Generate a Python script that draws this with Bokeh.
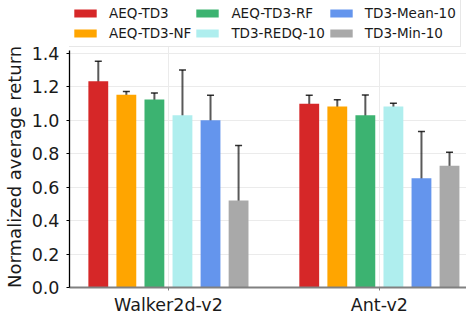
from bokeh.plotting import figure
from bokeh.models import (ColumnDataSource, Range1d, FixedTicker, Whisker, TeeHead,
                          Legend, LegendItem, NumeralTickFormatter)
from bokeh.embed import file_html
from bokeh.resources import INLINE

envs = ["Walker2d-v2", "Ant-v2"]
methods = ["AEQ-TD3", "AEQ-TD3-NF", "AEQ-TD3-RF", "TD3-REDQ-10", "TD3-Mean-10", "TD3-Min-10"]
colors = ["#d62728", "#ffa500", "#3cb371", "#afeeee", "#6495ed", "#a9a9a9"]
walker_mean = [1.234, 1.153, 1.124, 1.031, 1.000, 0.520]
walker_std = [0.12, 0.02, 0.04, 0.27, 0.15, 0.33]
ant_mean = [1.100, 1.083, 1.031, 1.083, 0.654, 0.729]
ant_std = [0.05, 0.04, 0.12, 0.02, 0.28, 0.08]
y_ticks = [0.0, 0.2, 0.4, 0.6, 0.8, 1.0, 1.2, 1.4]
y_axis_top = 1.42
y_label = "Normalized average return"

FONT = "DejaVu Sans"
step = 0.133
bar_w = 0.094

p = figure(width=466, height=317, output_backend="svg", toolbar_location=None,
           x_range=Range1d(-0.469, 1.413), y_range=Range1d(0, 1.717),
           min_border_left=67, min_border_right=0, min_border_top=0, min_border_bottom=28)
p.outline_line_color = None
p.background_fill_color = "white"

means = [walker_mean, ant_mean]
stds = [walker_std, ant_std]
renderers = []
for i, m in enumerate(methods):
    xs = [g + (i - 2.5) * step for g in range(len(envs))]
    tops = [means[g][i] for g in range(len(envs))]
    lo = [means[g][i] - stds[g][i] for g in range(len(envs))]
    hi = [means[g][i] + stds[g][i] for g in range(len(envs))]
    src = ColumnDataSource(dict(x=xs, top=tops, lower=lo, upper=hi))
    r = p.vbar(x="x", top="top", width=bar_w, bottom=0, source=src,
               fill_color=colors[i], line_color=None)
    renderers.append(r)
    w = Whisker(source=src, base="x", lower="lower", upper="upper",
                line_color="black", line_alpha=0.65, line_width=2,
                upper_head=TeeHead(size=7, line_color="black", line_width=1.5, line_alpha=0.8),
                lower_head=TeeHead(size=7, line_color="black", line_width=1.5, line_alpha=0.8))
    p.add_layout(w)

# axes
p.yaxis.ticker = FixedTicker(ticks=y_ticks)
p.yaxis.bounds = (0, y_axis_top)
p.yaxis.formatter = NumeralTickFormatter(format="0.0")
# trailing no-break spaces push the centred label down to sit beside the bounded axis
p.yaxis.axis_label = y_label + "\u00a0" * 8
p.yaxis.axis_label_text_font = FONT
p.yaxis.axis_label_text_font_size = "18px"
p.yaxis.axis_label_text_font_style = "normal"
p.yaxis.axis_label_text_color = "#1a1a1a"
p.yaxis.axis_label_standoff = 4
p.yaxis.major_label_text_font = FONT
p.yaxis.major_label_text_font_size = "17.5px"
p.yaxis.major_label_text_color = "#1a1a1a"
p.yaxis.major_label_standoff = 7
p.yaxis.axis_line_color = "black"
p.yaxis.axis_line_width = 1.3
p.yaxis.major_tick_out = 3
p.yaxis.major_tick_in = 0
p.yaxis.major_tick_line_color = "black"
p.yaxis.minor_tick_line_color = None

p.xaxis.ticker = FixedTicker(ticks=list(range(len(envs))))
p.xaxis.major_label_overrides = {i: e for i, e in enumerate(envs)}
p.xaxis.major_label_text_font = FONT
p.xaxis.major_label_text_font_size = "17.5px"
p.xaxis.major_label_text_color = "#1a1a1a"
p.xaxis.major_label_standoff = 4
p.xaxis.axis_line_color = "#808080"
p.xaxis.axis_line_width = 2
p.xaxis.major_tick_out = 3
p.xaxis.major_tick_in = 0
p.xaxis.major_tick_line_color = "#808080"
p.xaxis.minor_tick_line_color = None

p.xgrid.grid_line_color = "#ebebeb"
p.ygrid.grid_line_color = "#ebebeb"
p.xgrid.grid_line_width = 1
p.ygrid.grid_line_width = 1
p.xgrid.bounds = (0, y_axis_top)

items = [LegendItem(label=m, renderers=[renderers[i]]) for i, m in enumerate(methods)]
legend = Legend(items=items, ncols=3, orientation="vertical", location=(-3, 240),
                label_text_font=FONT, label_text_font_size="13.5px", label_text_color="#1a1a1a",
                glyph_width=28, glyph_height=10, label_standoff=10, label_height=18,
                spacing=2, padding=4, margin=0,
                border_line_color="#d0d0d0", border_line_width=1,
                background_fill_color="white", background_fill_alpha=1.0)
p.add_layout(legend, "center")

open("out.html", "w").write(file_html(p, INLINE))
